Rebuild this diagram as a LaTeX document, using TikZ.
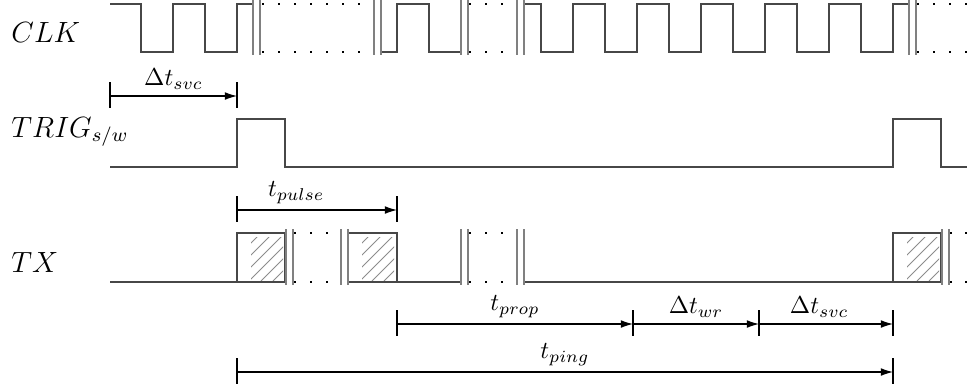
\documentclass[tikz,border=0pt]{standalone}
\usepackage{xcolor}
\usepackage{tikz}
\usetikzlibrary{positioning, arrows.meta, calc}
\definecolor{sigcol}{HTML}{474747}
\definecolor{gapcol}{HTML}{808080}
\definecolor{hatchcol}{HTML}{8C8C8C}

\tikzset{
  sig/.style={draw=sigcol, line width=0.85pt},
  gapline/.style={draw=gapcol, line width=0.45pt},
  hatch/.style={draw=hatchcol, line width=0.35pt},
  dimtick/.style={draw=black, line width=0.45pt},
  dimarrow/.style={draw=black, line width=0.45pt, -{Latex[length=5pt,width=3.2pt]}},
  dimlabel/.style={above, inner sep=2.5pt},
  sname/.style={font=\large, anchor=base west, inner sep=0pt}
}

% double bar of a cut in a trace
\newcommand{\gappair}[3]{\draw[gapline] (#1,#2-4) -- (#1,#3+3) (#1+7,#2-4) -- (#1+7,#3+3);}
% dotted levels inside a cut
\newcommand{\gapdots}[3]{\foreach \x in {#1} {
    \fill (\x-1.3,#2-1.3) rectangle (\x+1.3,#2+1.3);
    \fill (\x-1.3,#3-1.3) rectangle (\x+1.3,#3+1.3);}}
\newcommand{\hatchbox}[1]{%
  \begin{scope}
    \clip (#1+14,237) rectangle (#1+46,281);
    \foreach \k in {-36,-24,...,36} \draw[hatch] (#1+\k,281) -- ++(50,-50);
  \end{scope}}
\newcommand{\dimticks}[2]{\foreach \n in {#1} \draw[dimtick] (\n |- 0,#2) ++(0,-14) -- ++(0,26);}

\begin{document}
\begin{tikzpicture}[x=0.41pt, y=-0.41pt]
  \useasboundingbox (0,0) rectangle (967,389);

  \node[sname] (clk) at (11,42) {$CLK$};
  \node[sname] (trig) at (11,137) {$TRIG_{s/w}$};
  \node[sname] (tx) at (11,272) {$TX$};

  \foreach \n/\x in {ta/110, tb/237, tc/397, td/633, te/759, tf/893}
    \coordinate (\n) at (\x,0);

  % CLK
  \draw[sig] (110,4) -| (141,52) -| (173,4) -| (205,52) -| (237,4) -- (253,4);
  \draw[sig] (381,52) -| (397,4) -| (429,52) -- (461,52);
  \draw[sig] (524,4) foreach \x in {541,605,...,861} { -| (\x,52) -| (\x+32,4) } -- (909,4);
  \gappair{253}{4}{52} \gapdots{263,279,...,359}{4}{52} \gappair{374}{4}{52}
  \gappair{461}{4}{52} \gapdots{470,486,502}{4}{52} \gappair{517}{4}{52}
  \gappair{909}{4}{52} \gapdots{918,934,950,966}{4}{52}

  % TRIG
  \draw[sig] (110,167) -| (237,119) -| (285,167) -| (893,119) -| (941,167) -- (967,167);

  % TX
  \hatchbox{237} \hatchbox{348} \hatchbox{893}
  \draw[sig] (110,282) -- (285,282) (237,282) rectangle (285,233);
  \draw[sig] (348,282) -- (461,282) (348,282) rectangle (397,233);
  \draw[sig] (524,282) -- (941,282) (893,282) rectangle (941,233);
  \gappair{286}{233}{282} \gapdots{295,311,327}{233}{282} \gappair{341}{233}{282}
  \gappair{461}{233}{282} \gapdots{470,486,502}{233}{282} \gappair{517}{233}{282}
  \gappair{942}{233}{282} \gapdots{951,966}{233}{282}

  % timings
  \dimticks{ta,tb}{96}
  \draw[dimarrow] (ta |- 0,96) -- node[dimlabel] (svcA) {$\Delta t_{svc}$} (tb |- 0,96);
  \dimticks{tb,tc}{210}
  \draw[dimarrow] (tb |- 0,210) -- node[dimlabel, pos=0.37] (pulse) {$t_{pulse}$} (tc |- 0,210);
  \dimticks{tc,td,te,tf}{324}
  \draw[dimarrow] (tc |- 0,324) -- node[dimlabel] (prop) {$t_{prop}$} (td |- 0,324);
  \draw[dimarrow] (td |- 0,324) -- node[dimlabel] (wr) {$\Delta t_{wr}$} (te |- 0,324);
  \draw[dimarrow] (te |- 0,324) -- node[dimlabel, pos=0.45] (svcB) {$\Delta t_{svc}$} (tf |- 0,324);
  \dimticks{tb,tf}{372}
  \draw[dimarrow] (tb |- 0,372) -- node[dimlabel] (ping) {$t_{ping}$} (tf |- 0,372);
\end{tikzpicture}
\end{document}
